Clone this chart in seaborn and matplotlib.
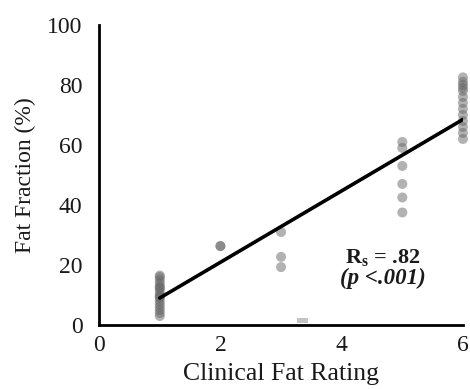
import numpy as np
import pandas as pd
import seaborn as sns
from matplotlib import pyplot as plt

# values
rating = [1] * 17 + [2, 2] + [3, 3, 3] + [5] * 6 + [6] * 13
fat_fraction = [3, 4, 5, 6, 7, 8, 9, 9.5, 10, 11, 12, 12.5, 13, 14, 15, 16, 16.5,
                26.3, 26.3,
                31, 22.7, 19.3,
                61, 59, 53, 47, 42.5, 37.5,
                62, 64, 66, 68, 70, 72, 74, 76, 78, 79, 80, 81, 82.5]
fit_x = [1, 6]
fit_y = [9, 68.5]
stray_x = [3.35]
stray_y = [1.6]

x_ticks = [0, 2, 4, 6]
y_ticks = [0, 20, 40, 60, 80, 100]

df = pd.DataFrame({"rating": rating, "fat": fat_fraction})

sns.set_theme(style="white")
plt.rcParams["font.family"] = ["Liberation Serif", "DejaVu Serif"]
plt.rcParams["mathtext.fontset"] = "custom"
plt.rcParams["mathtext.bf"] = "Liberation Serif:bold"
plt.rcParams["mathtext.rm"] = "Liberation Serif"

fig = plt.figure(figsize=(4.7, 3.89), dpi=100)
ax = fig.add_axes([0.211, 0.1645, 0.774, 0.7715])

sns.scatterplot(data=df, x="rating", y="fat", ax=ax, color="#666666", alpha=0.5,
                s=52, edgecolor="none", clip_on=False, zorder=2)
sns.lineplot(x=fit_x, y=fit_y, ax=ax, color="black", linewidth=2.6, zorder=3)

dash = [(-1, -0.45), (1, -0.45), (1, 0.45), (-1, 0.45)]
ax.scatter(stray_x, stray_y, marker=dash, s=60, color="#c4c4c4", edgecolor="none",
           clip_on=False, zorder=2)

ax.set_xlim(0, 6)
ax.set_ylim(0, 100)
ax.set_xticks(x_ticks)
ax.set_yticks(y_ticks)
ax.tick_params(axis="both", length=0, labelsize=17, colors="#1a1a1a")
ax.tick_params(axis="y", pad=12)
ax.tick_params(axis="x", pad=7)

ax.set_xlabel("Clinical Fat Rating", fontsize=18.5, color="#1a1a1a", labelpad=5)
ax.set_ylabel("Fat Fraction (%)", fontsize=17, color="#1a1a1a", labelpad=8)

for side in ["top", "right"]:
    ax.spines[side].set_visible(False)
for side in ["left", "bottom"]:
    ax.spines[side].set_color("black")
    ax.spines[side].set_linewidth(2)

ax.text(4.68, 22.5, r"$\mathbf{R_s}$ = .82", fontsize=16, fontweight="bold",
        ha="center", va="center", color="#1a1a1a")
ax.text(4.68, 15.5, "(p <.001)", fontsize=16.5, fontweight="bold", fontstyle="italic",
        ha="center", va="center", color="#1a1a1a")

fig.savefig("out.png", dpi=100)
